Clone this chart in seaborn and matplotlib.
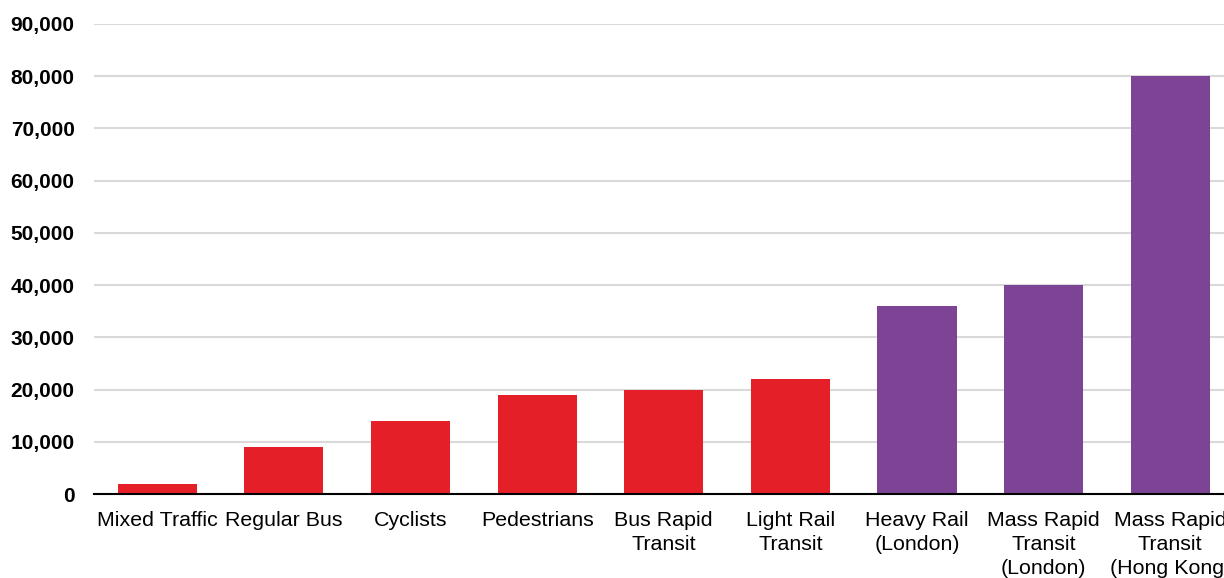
## Capacidad por modo de transporte ##

import numpy as np
import pandas as pd
import matplotlib
matplotlib.use("Agg")
import matplotlib.pyplot as plt
from matplotlib.ticker import FuncFormatter
import seaborn as sns

# Datos
modos = ['Mixed Traffic', 'Regular Bus', 'Cyclists', 'Pedestrians',
         'Bus Rapid\nTransit', 'Light Rail\nTransit', 'Heavy Rail\n(London)',
         'Mass Rapid\nTransit\n(London)', 'Mass Rapid\nTransit\n(Hong Kong)']
capacidad = [2000, 9000, 14000, 19000, 20000, 22000, 36000, 40000, 80000]
colores = ['#E41F28'] * 6 + ['#7D4394'] * 3
y_ticks = list(range(0, 90001, 10000))

df = pd.DataFrame({'modo': modos, 'capacidad': capacidad})

sns.set_style('white')
plt.rcParams['font.family'] = ['Liberation Sans', 'DejaVu Sans']
plt.rcParams['xtick.color'] = 'black'
plt.rcParams['ytick.color'] = 'black'
plt.rcParams['text.color'] = 'black'

fig = plt.figure(figsize=(12.24, 5.78), dpi=100)
# el eje se sale un poco por la derecha, como en la imagen original
ax = fig.add_axes([94 / 1224, 84 / 578, 1139.5 / 1224, 470 / 578])

sns.barplot(data=df, x='modo', y='capacidad', hue='modo', palette=colores,
            width=0.625, legend=False, ax=ax, saturation=1, linewidth=0)

ax.set_xlim(-0.5, len(modos) - 0.5)
ax.set_ylim(0, 90000)
ax.set_yticks(y_ticks)
ax.yaxis.set_major_formatter(FuncFormatter(lambda v, p: '{:,.0f}'.format(v)))
ax.grid(axis='y', color='#d9d9d9', linewidth=1.5)
ax.set_axisbelow(True)

for s in ['top', 'right', 'left']:
    ax.spines[s].set_visible(False)
ax.spines['bottom'].set_color('black')
ax.spines['bottom'].set_linewidth(1.5)
ax.spines['bottom'].set_zorder(5)

ax.tick_params(axis='y', length=0, pad=14, labelsize=15, labelcolor='black')
ax.tick_params(axis='x', length=0, pad=12, labelsize=15.4, labelcolor='black')
for lab in ax.get_yticklabels():
    lab.set_fontweight('bold')
for lab in ax.get_xticklabels():
    lab.set_linespacing(1.33)

ax.set_xlabel('')
ax.set_ylabel('')

fig.savefig('out.png', dpi=100)
